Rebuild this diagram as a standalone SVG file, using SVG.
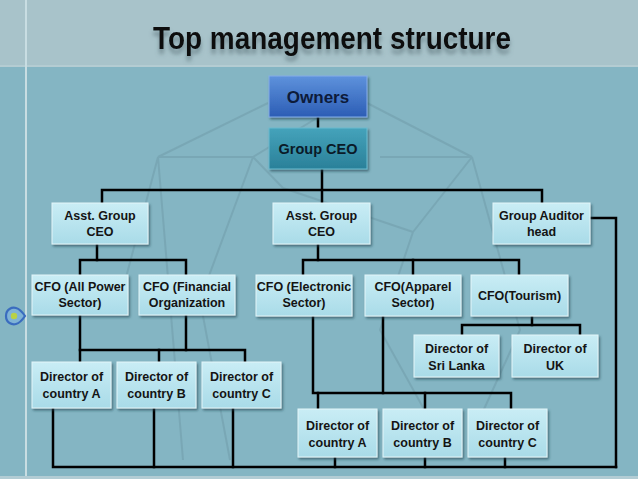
<svg xmlns="http://www.w3.org/2000/svg" width="638" height="479" viewBox="0 0 638 479">
<defs>
<linearGradient id="gLight" x1="0" y1="0" x2="0" y2="1">
<stop offset="0" stop-color="#c9edf5"/>
<stop offset="1" stop-color="#a9dbe8"/>
</linearGradient>
<linearGradient id="gOwn" x1="0" y1="0" x2="0" y2="1">
<stop offset="0" stop-color="#5e92dc"/>
<stop offset="1" stop-color="#2c5db5"/>
</linearGradient>
<linearGradient id="gCeo" x1="0" y1="0" x2="0" y2="1">
<stop offset="0" stop-color="#45a3bb"/>
<stop offset="1" stop-color="#2a8099"/>
</linearGradient>
<filter id="sh" x="-10%" y="-10%" width="130%" height="140%">
<feDropShadow dx="1.5" dy="2" stdDeviation="1" flood-color="#23414c" flood-opacity="0.6"/>
</filter>
<filter id="tsh" x="-5%" y="-30%" width="110%" height="180%">
<feDropShadow dx="0" dy="5" stdDeviation="2.2" flood-color="#4d6369" flood-opacity="0.6"/>
</filter>
<style>
.box{fill:url(#gLight);stroke:#e3f5f9;stroke-width:1;filter:url(#sh)}
.own{fill:url(#gOwn);stroke:#86aee8;stroke-width:1;filter:url(#sh)}
.ceo{fill:url(#gCeo);stroke:#6cbcd0;stroke-width:1;filter:url(#sh)}
.t{font-family:"Liberation Sans",Arial,sans-serif;font-weight:bold;font-size:12.5px;fill:#141414;text-anchor:middle}
.tb{font-family:"Liberation Sans",Arial,sans-serif;font-weight:bold;text-anchor:middle}
.c{fill:none;stroke:#000;stroke-width:2.5;stroke-linejoin:miter;stroke-linecap:square}
.bg{fill:none;stroke:#6d96a5;stroke-width:2;opacity:0.45}
</style>
</defs>
<!-- background -->
<rect x="0" y="0" width="638" height="479" fill="#84b5c3"/>
<rect x="0" y="0" width="638" height="66" fill="#a8c3ca"/>
<rect x="0" y="65" width="638" height="2" fill="#b4ccd2"/>
<rect x="25" y="0" width="2" height="479" fill="#c8dde2"/>
<rect x="0" y="476" width="638" height="3" fill="#b2ccd4"/>
<g id="bg-pattern">
<path class="bg" d="M158 157 L268 103 M367 103 L472 157 M158 157 L253 157 L283 188 M472 157 L380 157 M158 157 L183 460 M472 157 L520 330 L470 440 M253 157 L200 300 L230 460 M413 232 L472 157 M413 232 L380 330 L430 420 M283 188 L413 232 M120 300 L158 157 M330 110 L253 157"/>
</g>
<!-- title -->
<text class="tb" x="332" y="49" font-size="31" fill="#0b0b0b" textLength="358" lengthAdjust="spacingAndGlyphs" filter="url(#tsh)">Top management structure</text>
<!-- eye icon -->
<g id="icon">
<path d="M6 316 C6 309 12 307 16 308 C20 309 23 313 25 316 C23 319 20 323 16 324 C12 325 6 323 6 316 Z" fill="#7fb3d6" stroke="#3a6cbf" stroke-width="2.2"/>
<circle cx="14" cy="316" r="3.2" fill="#b9d246"/>
</g>
<!-- connectors -->
<g id="connectors">
<path class="c" d="M318 117 V128"/>
<path class="c" d="M322 169 V203"/>
<path class="c" d="M102 203 V190 H542 V203"/>
<path class="c" d="M590 218 H616 V467"/>
<path class="c" d="M97 244 V260"/>
<path class="c" d="M80 275 V260 H186 V275"/>
<path class="c" d="M318 244 V260"/>
<path class="c" d="M303 275 V260 H519 V275"/>
<path class="c" d="M413 260 V275"/>
<path class="c" d="M80 315 V362"/>
<path class="c" d="M186 315 V350"/>
<path class="c" d="M80 350 H245 V362"/>
<path class="c" d="M159 350 V362"/>
<path class="c" d="M53 408 V467 H616"/>
<path class="c" d="M154 408 V467"/>
<path class="c" d="M233 408 V467"/>
<path class="c" d="M313 316 V393 H511 V409"/>
<path class="c" d="M383 316 V393"/>
<path class="c" d="M318 393 V409"/>
<path class="c" d="M425 393 V409"/>
<path class="c" d="M335 457 V467"/>
<path class="c" d="M425 457 V467"/>
<path class="c" d="M505 457 V467"/>
<path class="c" d="M532 316 V325"/>
<path class="c" d="M462 335 V325 H580 V335"/>
</g>
<!-- nodes -->
<g id="owners">
<rect class="own" x="269" y="76" width="98" height="41"/>
<text class="tb" x="318" y="103" font-size="17" fill="#0d1b3a">Owners</text>
</g>
<g id="group-ceo">
<rect class="ceo" x="269" y="128" width="98" height="41"/>
<text class="tb" x="318" y="154" font-size="14.5" fill="#0a1a28">Group CEO</text>
</g>
<g id="asst-ceo-1">
<rect class="box" x="52" y="203" width="96" height="41"/>
<text class="t" x="100" y="219.5">Asst. Group</text>
<text class="t" x="100" y="235.5">CEO</text>
</g>
<g id="asst-ceo-2">
<rect class="box" x="273" y="203" width="97" height="41"/>
<text class="t" x="321.5" y="219.5">Asst. Group</text>
<text class="t" x="321.5" y="235.5">CEO</text>
</g>
<g id="auditor">
<rect class="box" x="493" y="203" width="97" height="41"/>
<text class="t" x="541.5" y="219.5">Group Auditor</text>
<text class="t" x="541.5" y="235.5">head</text>
</g>
<g id="cfo-power">
<rect class="box" x="32" y="275" width="96" height="40"/>
<text class="t" x="80" y="291">CFO (All Power</text>
<text class="t" x="80" y="307">Sector)</text>
</g>
<g id="cfo-financial">
<rect class="box" x="139" y="275" width="96" height="40"/>
<text class="t" x="187" y="291">CFO (Financial</text>
<text class="t" x="187" y="307">Organization</text>
</g>
<g id="cfo-electronic">
<rect class="box" x="256" y="275" width="96" height="41"/>
<text class="t" x="304" y="291">CFO (Electronic</text>
<text class="t" x="304" y="307">Sector)</text>
</g>
<g id="cfo-apparel">
<rect class="box" x="365" y="275" width="96" height="41"/>
<text class="t" x="413" y="291">CFO(Apparel</text>
<text class="t" x="413" y="307">Sector)</text>
</g>
<g id="cfo-tourism">
<rect class="box" x="471" y="275" width="97" height="41"/>
<text class="t" x="519.5" y="300">CFO(Tourism)</text>
</g>
<g id="dir-a-1">
<rect class="box" x="32" y="362" width="79" height="46"/>
<text class="t" x="71.5" y="381">Director of</text>
<text class="t" x="71.5" y="398">country A</text>
</g>
<g id="dir-b-1">
<rect class="box" x="117" y="362" width="79" height="46"/>
<text class="t" x="156.5" y="381">Director of</text>
<text class="t" x="156.5" y="398">country B</text>
</g>
<g id="dir-c-1">
<rect class="box" x="202" y="362" width="79" height="46"/>
<text class="t" x="241.5" y="381">Director of</text>
<text class="t" x="241.5" y="398">country C</text>
</g>
<g id="dir-srilanka">
<rect class="box" x="414" y="335" width="85" height="42"/>
<text class="t" x="456.5" y="353">Director of</text>
<text class="t" x="456.5" y="370">Sri Lanka</text>
</g>
<g id="dir-uk">
<rect class="box" x="512" y="335" width="86" height="42"/>
<text class="t" x="555" y="353">Director of</text>
<text class="t" x="555" y="370">UK</text>
</g>
<g id="dir-a-2">
<rect class="box" x="298" y="409" width="79" height="48"/>
<text class="t" x="337.5" y="430">Director of</text>
<text class="t" x="337.5" y="447">country A</text>
</g>
<g id="dir-b-2">
<rect class="box" x="383" y="409" width="79" height="48"/>
<text class="t" x="422.5" y="430">Director of</text>
<text class="t" x="422.5" y="447">country B</text>
</g>
<g id="dir-c-2">
<rect class="box" x="468" y="409" width="79" height="48"/>
<text class="t" x="507.5" y="430">Director of</text>
<text class="t" x="507.5" y="447">country C</text>
</g>
</svg>
